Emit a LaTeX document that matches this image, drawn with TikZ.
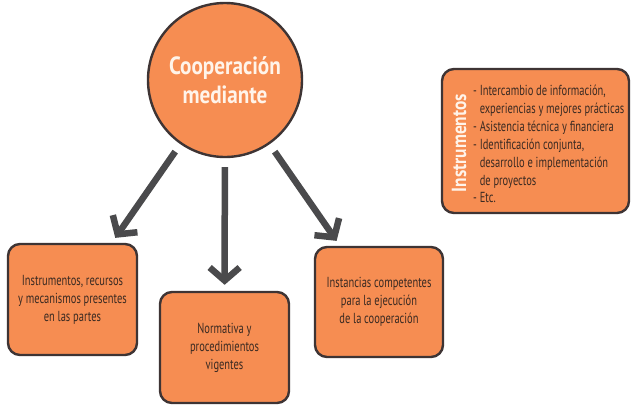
\documentclass[tikz,border=0pt]{standalone}
\usepackage{fontspec}
\setmainfont[FakeStretch=0.72]{PT Sans}
\newfontfamily\titlefont[FakeStretch=0.85]{PT Sans}
\usetikzlibrary{arrows.meta,shapes.geometric}
\definecolor{orfill}{HTML}{F68D52}
\definecolor{bord}{HTML}{3E3434}
\definecolor{arrc}{HTML}{4A4A4C}
\definecolor{txt}{HTML}{3A2A22}
\definecolor{wtxt}{HTML}{FFF4EA}
\tikzset{
  obox/.style={draw=bord, line width=2.4bp, fill=orfill, rounded corners=12bp,
    minimum width=#1, inner sep=0pt, align=center, text=txt,
    font=\fontsize{14.6}{18}\selectfont},
  arr/.style={draw=arrc, line width=6.5bp,
    -{Straight Barb[length=13bp,width=30bp]}, shorten <=9bp, shorten >=6bp},
}
\begin{document}
\begin{tikzpicture}[x=1bp,y=-1bp]
\useasboundingbox (0,0) rectangle (631,405);
\fill[white] (0,0) rectangle (631,405);

\node[circle, draw=bord, line width=2.4bp, fill=orfill, minimum size=154bp,
  inner sep=0pt, text=wtxt, align=center,
  font=\titlefont\bfseries\fontsize{25}{29}\selectfont] (c) at (225,80)
  {Cooperación\\mediante};

\node[obox=129bp, minimum height=111bp] (b1) at (72.5,299.5)
  {Instrumentos, recursos\\y mecanismos presentes\\en las partes};
\node[obox=129bp, minimum height=111bp] (b2) at (224.5,347.5)
  {Normativa y\\procedimientos\\vigentes};
\node[obox=128bp, minimum height=110bp] (b3) at (379,302)
  {Instancias competentes\\para la ejecución\\de la cooperación};

\node[obox=187bp, minimum height=144bp] (b4) at (535.5,141) {};
\node[anchor=west, inner sep=0pt, align=left, text=txt,
  font=\fontsize{14.6}{18}\selectfont] (il) at (473,144)
  {- Intercambio de información,\\
   \hphantom{- }experiencias y mejores prácticas\\
   - Asistencia técnica y financiera\\
   - Identificación conjunta,\\
   \hphantom{- }desarrollo e implementación\\
   \hphantom{- }de proyectos\\
   - Etc.};
\node[rotate=90, inner sep=0pt, text=wtxt,
  font=\titlefont\bfseries\fontsize{20.5}{22}\selectfont] (it) at (459,143)
  {Instrumentos};

\draw[arr] (c) -- (b1);
\draw[arr] (c) -- (b2);
\draw[arr] (c) -- (b3);
\end{tikzpicture}
\end{document}
